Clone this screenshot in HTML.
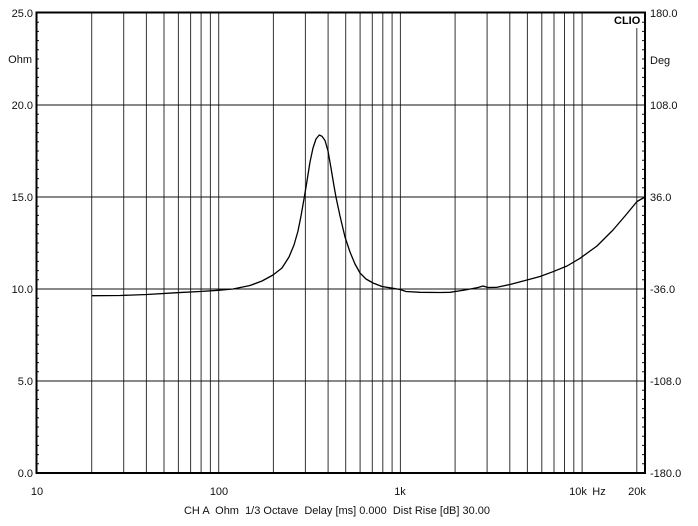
<!DOCTYPE html>
<html><head><meta charset="utf-8"><style>
html,body{margin:0;padding:0;background:#fff;}
svg{display:block;}
text{font-family:"Liberation Sans",Arial,sans-serif;font-size:11px;fill:#111;}
</style></head><body>
<svg width="698" height="526" viewBox="0 0 698 526" xmlns="http://www.w3.org/2000/svg">
<rect width="698" height="526" fill="#fff"/>
<!-- vertical grid -->
<g stroke="#333" stroke-width="1">
<line x1="91.7" y1="13" x2="91.7" y2="473"/>
<line x1="123.7" y1="13" x2="123.7" y2="473"/>
<line x1="146.4" y1="13" x2="146.4" y2="473"/>
<line x1="164" y1="13" x2="164" y2="473"/>
<line x1="178.4" y1="13" x2="178.4" y2="473"/>
<line x1="190.6" y1="13" x2="190.6" y2="473"/>
<line x1="201.1" y1="13" x2="201.1" y2="473"/>
<line x1="210.4" y1="13" x2="210.4" y2="473"/>
<line x1="218.7" y1="13" x2="218.7" y2="473"/>
<line x1="273.4" y1="13" x2="273.4" y2="473"/>
<line x1="305.4" y1="13" x2="305.4" y2="473"/>
<line x1="328.1" y1="13" x2="328.1" y2="473"/>
<line x1="345.7" y1="13" x2="345.7" y2="473"/>
<line x1="360.1" y1="13" x2="360.1" y2="473"/>
<line x1="372.3" y1="13" x2="372.3" y2="473"/>
<line x1="382.8" y1="13" x2="382.8" y2="473"/>
<line x1="392.1" y1="13" x2="392.1" y2="473"/>
<line x1="400.4" y1="13" x2="400.4" y2="473"/>
<line x1="455.1" y1="13" x2="455.1" y2="473"/>
<line x1="487.1" y1="13" x2="487.1" y2="473"/>
<line x1="509.8" y1="13" x2="509.8" y2="473"/>
<line x1="527.4" y1="13" x2="527.4" y2="473"/>
<line x1="541.8" y1="13" x2="541.8" y2="473"/>
<line x1="554" y1="13" x2="554" y2="473"/>
<line x1="564.5" y1="13" x2="564.5" y2="473"/>
<line x1="573.8" y1="13" x2="573.8" y2="473"/>
<line x1="582.1" y1="13" x2="582.1" y2="473"/>
<line x1="636.8" y1="28" x2="636.8" y2="473"/>
</g>
<!-- horizontal grid -->
<g stroke="#111" stroke-width="1">
<line x1="36" y1="105" x2="645" y2="105"/>
<line x1="36" y1="197" x2="645" y2="197"/>
<line x1="36" y1="289" x2="645" y2="289"/>
<line x1="36" y1="381" x2="645" y2="381"/>
</g>
<!-- minor ticks -->
<g stroke="#111" stroke-width="1" id="ticks">
<path d="M36 22.2h3M36 31.4h3M36 40.6h3M36 49.8h3M36 59h3M36 68.2h3M36 77.4h3M36 86.6h3M36 95.8h3
M36 114.2h3M36 123.4h3M36 132.6h3M36 141.8h3M36 151h3M36 160.2h3M36 169.4h3M36 178.6h3M36 187.8h3
M36 206.2h3M36 215.4h3M36 224.6h3M36 233.8h3M36 243h3M36 252.2h3M36 261.4h3M36 270.6h3M36 279.8h3
M36 298.2h3M36 307.4h3M36 316.6h3M36 325.8h3M36 335h3M36 344.2h3M36 353.4h3M36 362.6h3M36 371.8h3
M36 390.2h3M36 399.4h3M36 408.6h3M36 417.8h3M36 427h3M36 436.2h3M36 445.4h3M36 454.6h3M36 463.8h3"/>
<path transform="translate(606,0)" d="M36 22.2h3M36 31.4h3M36 40.6h3M36 49.8h3M36 59h3M36 68.2h3M36 77.4h3M36 86.6h3M36 95.8h3
M36 114.2h3M36 123.4h3M36 132.6h3M36 141.8h3M36 151h3M36 160.2h3M36 169.4h3M36 178.6h3M36 187.8h3
M36 206.2h3M36 215.4h3M36 224.6h3M36 233.8h3M36 243h3M36 252.2h3M36 261.4h3M36 270.6h3M36 279.8h3
M36 298.2h3M36 307.4h3M36 316.6h3M36 325.8h3M36 335h3M36 344.2h3M36 353.4h3M36 362.6h3M36 371.8h3
M36 390.2h3M36 399.4h3M36 408.6h3M36 417.8h3M36 427h3M36 436.2h3M36 445.4h3M36 454.6h3M36 463.8h3"/>
</g>
<!-- frame -->
<rect x="36.5" y="12.5" width="608.5" height="460.5" fill="none" stroke="#000" stroke-width="2"/>
<!-- curve -->
<polyline fill="none" stroke="#000" stroke-width="1.3" stroke-linejoin="round" points="92,295.7 120,295.5 147,294.5 177,292.7 200,291.5 218,290.3 233,289 250,285.5 262,281 273,275 282,268 289,257 294,245 298,231 301,216 304,199 307,181 310,162 313,148 316,139 319.3,135 322,136.3 325,140.5 328,151 331,168 334,186 336,197.3 340,216 345,237 350,252 355,264 360,273 366,279 373,283 382,286.5 393,288.3 400,289.5 406,291.5 420,292.3 440,292.5 450,292.3 465,290 478,287.5 483,286 488,287.5 497,287.3 510,284.5 527,280 540,276.5 553,271.7 567,266 580,258.3 597,246 613,230 625,216 637,201.5 645,197"/>
<!-- CLIO -->
<text x="614" y="24" style="font-weight:bold;font-size:11px;fill:#000">CLIO</text>
<!-- left labels -->
<g text-anchor="end">
<text x="33" y="17">25.0</text>
<text x="32" y="63">Ohm</text>
<text x="33" y="109">20.0</text>
<text x="33" y="201">15.0</text>
<text x="33" y="293">10.0</text>
<text x="33" y="385">5.0</text>
<text x="33" y="477">0.0</text>
</g>
<!-- right labels -->
<g>
<text x="650" y="17">180.0</text>
<text x="650" y="64">Deg</text>
<text x="650" y="109">108.0</text>
<text x="650" y="201">36.0</text>
<text x="650" y="293">-36.0</text>
<text x="650" y="385">-108.0</text>
<text x="650" y="477">-180.0</text>
</g>
<!-- x labels -->
<g text-anchor="middle">
<text x="37" y="495">10</text>
<text x="219" y="495">100</text>
<text x="400" y="495">1k</text>
<text x="578" y="495">10k</text>
<text x="599" y="495">Hz</text>
<text x="637" y="495">20k</text>
</g>
<text x="184" y="514" textLength="306" lengthAdjust="spacingAndGlyphs" xml:space="preserve">CH A  Ohm  1/3 Octave  Delay [ms] 0.000  Dist Rise [dB] 30.00</text>
</svg>
</body></html>
